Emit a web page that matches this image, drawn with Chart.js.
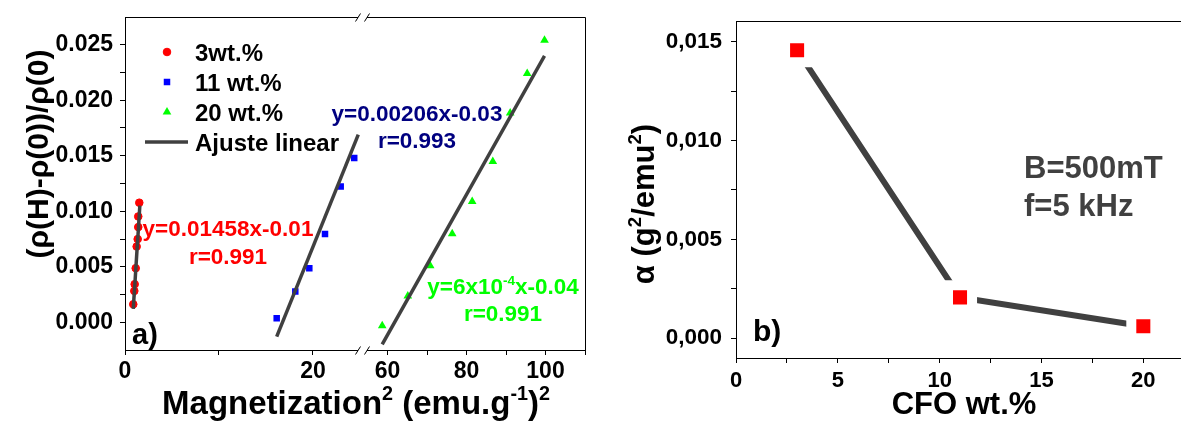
<!DOCTYPE html>
<html><head><meta charset="utf-8">
<script src="https://cdn.jsdelivr.net/npm/chart.js@4.4.1/dist/chart.umd.min.js"></script>
<style>
html,body{margin:0;padding:0;background:#fff;width:1181px;height:421px;overflow:hidden}
#ca{position:absolute;left:0;top:0}
#cb{position:absolute;left:600px;top:0}
</style></head><body>
<canvas id="ca" width="600" height="421"></canvas>
<canvas id="cb" width="581" height="421"></canvas>
<script>
const FONT = "'Liberation Sans', Arial, Helvetica, sans-serif";

// ---------- Panel a) data : Magnetization^2 vs relative resistance change ----------
const m2_3wt  = [0.88, 0.99, 1.03, 1.14, 1.24, 1.35, 1.41, 1.41, 1.52];
const dr_3wt  = [0.00162, 0.00282, 0.00343, 0.00487, 0.00682, 0.00749, 0.00857, 0.00953, 0.01077];
const m2_11wt = [16.14, 18.12, 19.61, 21.28, 22.95, 24.39];
const dr_11wt = [0.00036, 0.00276, 0.00487, 0.00794, 0.01224, 0.0148];
const m2_20wt = [58.66, 65.14, 70.81, 76.38, 81.44, 86.66, 91.06, 95.37, 99.75];
const dr_20wt = [-0.00031, 0.00237, 0.00508, 0.00797, 0.01088, 0.01449, 0.01886, 0.02241, 0.02541];
// linear fit end points
const fit3_x  = [0.88, 1.58];   const fit3_y  = [0.0012, 0.0105];
const fit11_x = [16.14, 24.82]; const fit11_y = [-0.0013, 0.0169];
const fit20_x = [58.66, 99.75]; const fit20_y = [-0.0020, 0.0240];
// ticks panel a
const yTicksA   = [0, 0.0025, 0.005, 0.0075, 0.01, 0.0125, 0.015, 0.0175, 0.02, 0.0225, 0.025];
const yMajorA   = [0, 0.005, 0.01, 0.015, 0.02, 0.025];
const yLabelsA  = ['0.000', '0.005', '0.010', '0.015', '0.020', '0.025'];
const xaTicks   = [0, 10, 20];
const xaMajor   = [0, 20];
const xaLabels  = ['0', '20'];
const xbTicks   = [60, 70, 80, 90, 100, 110];
const xbMajor   = [60, 80, 100];
const xbLabels  = ['60', '80', '100'];

// ---------- Panel b) data ----------
const cfoWt  = [3, 11, 20];
const slopeB = [0.01458, 0.00206, 0.0006];
const yTicksB  = [0, 0.0025, 0.005, 0.0075, 0.01, 0.0125, 0.015];
const yMajorB  = [0, 0.005, 0.01, 0.015];
const yLabelsB = ['0,000', '0,005', '0,010', '0,015'];
const xTicksB  = [0, 2.5, 5, 7.5, 10, 12.5, 15, 17.5, 20];
const xMajorB  = [0, 5, 10, 15, 20];
const xLabelsB = ['0', '5', '10', '15', '20'];

// ---------- helpers ----------
const pts = (xs, ys) => xs.map((x, i) => ({x, y: ys[i]}));
const setTicks = vals => scale => { scale.ticks = vals.map(v => ({value: v})); };
const labelFrom = (maj, labs) => v => { const i = maj.findIndex(m => Math.abs(m - v) < 1e-9); return i >= 0 ? labs[i] : ''; };
const fitW = w => s => { s.width = w; s.paddingTop = 0; s.paddingBottom = 0; s.paddingLeft = 0; s.paddingRight = 0; };
const fitH = h => s => { s.height = h; s.paddingTop = 0; s.paddingBottom = 0; s.paddingLeft = 0; s.paddingRight = 0; };

function richWidth(ctx, segs, size) {
  let w = 0;
  for (const s of segs) { ctx.font = `bold ${s.sup ? size * 0.6 : size}px ${FONT}`; w += ctx.measureText(s.t).width; }
  return w;
}
function drawRich(ctx, segs, x, yc, size, color, align, rot) {
  ctx.save(); ctx.translate(x, yc); ctx.rotate(rot || 0);
  const w = richWidth(ctx, segs, size);
  let cx = align === 'center' ? -w / 2 : (align === 'right' ? -w : 0);
  const base = 0.36 * size;
  ctx.fillStyle = color; ctx.textBaseline = 'alphabetic'; ctx.textAlign = 'left';
  for (const s of segs) {
    const fs = s.sup ? size * 0.6 : size;
    ctx.font = `bold ${fs}px ${FONT}`;
    ctx.fillText(s.t, cx, s.sup ? base - size * 0.42 : base);
    cx += ctx.measureText(s.t).width;
  }
  ctx.restore();
}
const txt = (ctx, t, x, yc, size, color, align) => drawRich(ctx, [{t}], x, yc, size, color, align || 'left', 0);

const tickFont = {family: FONT, size: 23, weight: 'bold'};
const axisCommon = (extra) => Object.assign({
  type: 'linear',
  grid: {drawOnChartArea: false, tickLength: 5, tickColor: '#000', tickWidth: 1},
  border: {color: '#000', width: 1},
}, extra);

// ---------- Panel a ----------
const decorA = {
  id: 'decorA',
  afterDraw(chart) {
    const ctx = chart.ctx, a = chart.chartArea;
    ctx.save();
    ctx.strokeStyle = '#000'; ctx.lineWidth = 1;
    ctx.beginPath();
    ctx.moveTo(a.left, a.top + 0.5); ctx.lineTo(a.right + 0.5, a.top + 0.5);
    ctx.lineTo(a.right + 0.5, a.bottom);
    ctx.stroke();
    // axis breaks
    const bx = chart.scales.xa.right;
    for (const yy of [a.top + 0.5, a.bottom + 0.5]) {
      ctx.fillStyle = '#fff';
      ctx.fillRect(bx - 4.5, yy - 2, 9, 4);
      ctx.strokeStyle = '#000'; ctx.lineWidth = 1;
      ctx.beginPath();
      ctx.moveTo(bx - 7, yy + 4); ctx.lineTo(bx - 2, yy - 4);
      ctx.moveTo(bx + 2, yy + 4); ctx.lineTo(bx + 7, yy - 4);
      ctx.stroke();
    }
    // legend
    const ds = chart.data.datasets;
    const items = [ds[3], ds[4], ds[5]];
    const ly = [52, 82, 112];
    items.forEach((d, i) => {
      ctx.fillStyle = d.backgroundColor; ctx.strokeStyle = d.borderColor;
      Chart.helpers.drawPoint(ctx, {pointStyle: d.pointStyle, radius: d.pointRadius, rotation: 0, borderWidth: d.borderWidth}, 167, ly[i]);
      txt(ctx, d.label, 195, ly[i], 24, '#000');
    });
    ctx.strokeStyle = ds[0].borderColor; ctx.lineWidth = ds[0].borderWidth;
    ctx.beginPath(); ctx.moveTo(145, 142); ctx.lineTo(188, 142); ctx.stroke();
    txt(ctx, 'Ajuste linear', 195, 142, 24, '#000');
    // fit equations
    txt(ctx, 'y=0.01458x-0.01', 228, 228, 22.5, '#ff0000', 'center');
    txt(ctx, 'r=0.991', 228, 256, 22.5, '#ff0000', 'center');
    txt(ctx, 'y=0.00206x-0.03', 417, 113, 22.5, '#000080', 'center');
    txt(ctx, 'r=0.993', 417, 140, 22.5, '#000080', 'center');
    drawRich(ctx, [{t: 'y=6x10'}, {t: '-4', sup: true}, {t: 'x-0.04'}], 503, 286, 22.5, '#00ff00', 'center', 0);
    txt(ctx, 'r=0.991', 503, 313, 22.5, '#00ff00', 'center');
    txt(ctx, 'a)', 132, 334, 29, '#000');
    // axis titles
    drawRich(ctx, [{t: 'Magnetization'}, {t: '2', sup: true}, {t: ' (emu.g'}, {t: '-1', sup: true}, {t: ')'}, {t: '2', sup: true}], 356, 402, 33, '#000', 'center', 0);
    drawRich(ctx, [{t: '(ρ(H)-ρ(0))/ρ(0)'}], 37, 154, 30, '#000', 'center', -Math.PI / 2);
    ctx.restore();
  }
};

new Chart(document.getElementById('ca'), {
  type: 'scatter',
  data: {datasets: [
    {label: 'Ajuste linear', data: pts(fit3_x, fit3_y), xAxisID: 'xa', yAxisID: 'y', showLine: true, borderColor: '#404040', borderWidth: 3.5, pointRadius: 0, order: 0},
    {label: 'fit 11', data: pts(fit11_x, fit11_y), xAxisID: 'xa', yAxisID: 'y', showLine: true, borderColor: '#404040', borderWidth: 3.5, pointRadius: 0, order: 0},
    {label: 'fit 20', data: pts(fit20_x, fit20_y), xAxisID: 'xb', yAxisID: 'y', showLine: true, borderColor: '#404040', borderWidth: 3.5, pointRadius: 0, order: 0},
    {label: '3wt.%', data: pts(m2_3wt, dr_3wt), xAxisID: 'xa', yAxisID: 'y', pointStyle: 'circle', pointRadius: 3.8, backgroundColor: '#ff0000', borderColor: '#ff0000', borderWidth: 1, order: 1},
    {label: '11 wt.%', data: pts(m2_11wt, dr_11wt), xAxisID: 'xa', yAxisID: 'y', pointStyle: 'rect', pointRadius: 4.6, backgroundColor: '#0000ff', borderColor: '#0000ff', borderWidth: 0, order: 1},
    {label: '20 wt.%', data: pts(m2_20wt, dr_20wt), xAxisID: 'xb', yAxisID: 'y', pointStyle: 'triangle', pointRadius: 5, backgroundColor: '#00ff00', borderColor: '#00ff00', borderWidth: 0, order: 1},
  ]},
  options: {
    responsive: false, animation: false, events: [],
    layout: {autoPadding: false, padding: {top: 17, right: 15, left: 0, bottom: 0}},
    plugins: {legend: {display: false}, tooltip: {enabled: false}},
    scales: {
      y: axisCommon({position: 'left', min: -0.0025, max: 0.0275,
        afterFit: fitW(125), afterBuildTicks: setTicks(yTicksA),
        ticks: {callback: labelFrom(yMajorA, yLabelsA), font: tickFont, color: '#000', padding: 7, autoSkip: false}}),
      xa: axisCommon({position: 'bottom', stack: 'x', stackWeight: 237.5, min: 0, max: 25.27,
        afterFit: fitH(71), afterBuildTicks: setTicks(xaTicks),
        ticks: {callback: labelFrom(xaMajor, xaLabels), font: tickFont, color: '#000', padding: 3, autoSkip: false, maxRotation: 0}}),
      xb: axisCommon({position: 'bottom', stack: 'x', stackWeight: 222.5, min: 53.67, max: 110,
        afterFit: fitH(71), afterBuildTicks: setTicks(xbTicks),
        ticks: {callback: labelFrom(xbMajor, xbLabels), font: tickFont, color: '#000', padding: 3, autoSkip: false, maxRotation: 0}}),
    }
  },
  plugins: [decorA]
});

// ---------- Panel b ----------
const decorB = {
  id: 'decorB',
  afterDraw(chart) {
    const ctx = chart.ctx, a = chart.chartArea;
    ctx.save();
    ctx.strokeStyle = '#000'; ctx.lineWidth = 1;
    ctx.beginPath(); ctx.moveTo(a.left, a.top + 0.5); ctx.lineTo(a.right, a.top + 0.5); ctx.stroke();
    txt(ctx, 'B=500mT', 424, 167, 31, '#404040');
    txt(ctx, 'f=5 kHz', 424, 205, 31, '#404040');
    txt(ctx, 'b)', 153, 330, 30, '#000');
    txt(ctx, 'CFO wt.%', 364, 403, 31, '#000', 'center');
    drawRich(ctx, [{t: 'α (g'}, {t: '2', sup: true}, {t: '/emu'}, {t: '2', sup: true}, {t: ')'}], 43, 204, 31, '#000', 'center', -Math.PI / 2);
    ctx.restore();
  }
};

new Chart(document.getElementById('cb'), {
  type: 'scatter',
  data: {datasets: [
    {label: 'slope', data: pts(cfoWt, slopeB), showLine: true, borderColor: '#404040', borderWidth: 6,
     pointStyle: 'rect', pointRadius: 17, pointBackgroundColor: '#ff0000', pointBorderColor: '#ffffff', pointBorderWidth: 10},
  ]},
  options: {
    responsive: false, animation: false, events: [],
    layout: {autoPadding: false, padding: {top: 21, right: 0, left: 0, bottom: 0}},
    plugins: {legend: {display: false}, tooltip: {enabled: false}},
    scales: {
      y: axisCommon({position: 'left', min: -0.00101, max: 0.01606,
        afterFit: fitW(136), afterBuildTicks: setTicks(yTicksB),
        ticks: {callback: labelFrom(yMajorB, yLabelsB), font: {family: FONT, size: 22.5, weight: 'bold'}, color: '#000', padding: 9, autoSkip: false}}),
      x: axisCommon({position: 'bottom', min: 0, max: 21.85,
        afterFit: fitH(63), afterBuildTicks: setTicks(xTicksB),
        ticks: {callback: labelFrom(xMajorB, xLabelsB), font: {family: FONT, size: 22, weight: 'bold'}, color: '#000', padding: 5, autoSkip: false, maxRotation: 0}}),
    }
  },
  plugins: [decorB]
});
</script>
</body></html>
